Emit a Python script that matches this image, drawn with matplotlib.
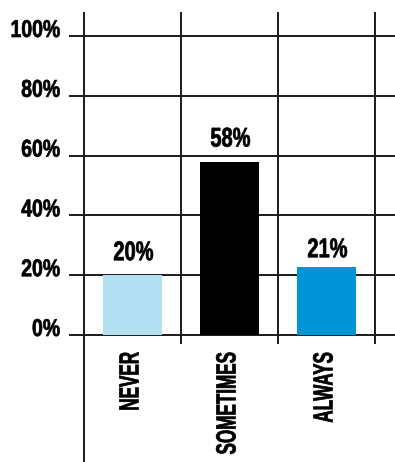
import matplotlib
matplotlib.use("Agg")
import matplotlib.pyplot as plt
from matplotlib.transforms import offset_copy, Affine2D
from matplotlib.patheffects import AbstractPathEffect

categories = ["NEVER", "SOMETIMES", "ALWAYS"]
bar_heights = [20.0, 57.7, 22.7]
label_values = [20, 58, 21]
bar_colors = ["#b4e0f3", "#000000", "#0096d6"]
y_ticks = [0, 20, 40, 60, 80, 100]

FONT = ["Liberation Sans", "DejaVu Sans"]
LINE = "#1a1a1a"


class Condense(AbstractPathEffect):
    """squeeze glyphs along the text direction (fake bold condensed face)"""

    def __init__(self, sx, pivot="start", stroke=0.5):
        super().__init__()
        self.sx = sx
        self.pivot = pivot
        self.stroke = stroke

    def draw_path(self, renderer, gc, tpath, affine, rgbFace=None):
        ext = tpath.get_extents()
        px = {"start": 0.0, "center": (ext.x0 + ext.x1) / 2, "end": ext.x1}[self.pivot]
        t = Affine2D().translate(-px, 0).scale(self.sx, 1).translate(px, 0) + affine
        gc0 = renderer.new_gc()
        gc0.copy_properties(gc)
        gc0.set_linewidth(self.stroke)
        gc0.set_foreground(rgbFace, isRGBA=True)
        gc0.set_joinstyle("round")
        renderer.draw_path(gc0, tpath, t, rgbFace)
        gc0.restore()


def main():
    fig = plt.figure(figsize=(3.95, 4.62), dpi=100)
    ax = fig.add_axes([0, 0, 1, 1])
    ax.set_axis_off()

    # pixel layout: cells 97 px wide starting at x=84, 2.99 px per percent, 0% at y=335
    ax.set_xlim(-0.5 - 84 / 97, -0.5 + (395 - 84) / 97)
    ax.set_ylim(-127 / 2.99, 100 + 36 / 2.99)

    x = list(range(len(categories)))
    top = 100 + 24 / 2.99
    bottom = ax.get_ylim()[0]

    # grid
    ax.hlines(y_ticks, -0.5 - 15 / 97, ax.get_xlim()[1], color=LINE, lw=1.4, zorder=1)
    ax.vlines([-0.5], bottom, top, color=LINE, lw=1.4, zorder=1)
    ax.vlines([0.5, 1.5, 2.5], -9 / 2.99, top, color=LINE, lw=1.4, zorder=1)

    ax.bar(x, bar_heights, width=0.6, color=bar_colors, zorder=2)

    up = offset_copy(ax.transData, fig=fig, x=1, y=15, units="dots")
    for xi, v in zip(x, label_values):
        ax.text(xi, v, f"{v}%", ha="center", va="baseline", transform=up,
                fontsize=19.5, fontweight="bold", family=FONT, zorder=3,
                path_effects=[Condense(0.74, "center")])

    fig.canvas.draw()
    renderer = fig.canvas.get_renderer()

    # y labels: right edge of the squeezed text sits at x=60 px
    sx_tick = 0.8
    for t in y_ticks:
        txt = ax.text(-0.5 - 24 / 97, t, f"{t}%", ha="left", va="baseline",
                      fontsize=17.5, fontweight="bold", family=FONT,
                      path_effects=[Condense(sx_tick)])
        w = txt.get_window_extent(renderer).width
        txt.set_transform(offset_copy(ax.transData, fig=fig, x=-sx_tick * w, y=-1, units="dots"))

    # category labels: top end of the squeezed text sits 17 px below the 0% line
    sx_cat = 0.615
    for xi, c in zip(x, categories):
        txt = ax.text(xi, 0, c, rotation=90, ha="center", va="bottom",
                      fontsize=20, fontweight="bold", family=FONT,
                      path_effects=[Condense(sx_cat)])
        h = txt.get_window_extent(renderer).height
        txt.set_transform(offset_copy(ax.transData, fig=fig, x=-1, y=-(17 + sx_cat * h), units="dots"))

    fig.savefig("out.png", dpi=100)


if __name__ == "__main__":
    main()
